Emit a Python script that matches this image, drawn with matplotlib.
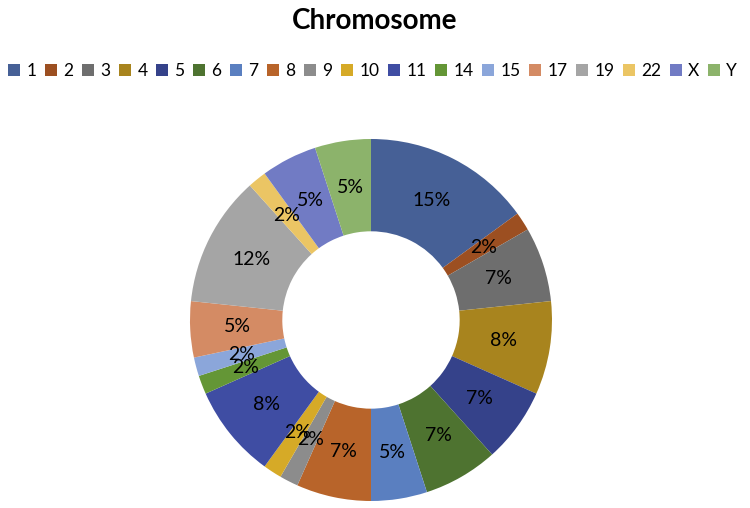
import matplotlib.pyplot as plt
from matplotlib.patches import Patch

# chromosome counts (read from the % labels, total 60)
chromosomes = ['1', '2', '3', '4', '5', '6', '7', '8', '9', '10',
               '11', '14', '15', '17', '19', '22', 'X', 'Y']
counts = [9, 1, 4, 5, 4, 4, 3, 4, 1, 1, 5, 1, 1, 3, 7, 1, 3, 3]
colors = ['#466096', '#9C4F21', '#6E6E6E', '#A8841E', '#35428A', '#4E7330',
          '#5A7FC0', '#B8642A', '#8C8C8C', '#D6AA27', '#3F4DA3', '#649636',
          '#8BA6DA', '#D48B64', '#A5A5A5', '#EBC564', '#717BC4', '#8CB36B']

plt.rcParams['font.family'] = ['Lato', 'DejaVu Sans']

fig = plt.figure(figsize=(7.5, 5.08), dpi=100)
ax = fig.add_axes([0.2533, 0.0138, 0.4827, 0.7126])

wedges, texts, autotexts = ax.pie(
    counts, colors=colors, startangle=90, counterclock=False,
    autopct='%.0f%%', pctdistance=0.74,
    wedgeprops=dict(width=0.51, edgecolor='none'),
    textprops=dict(fontsize=14, color='black'))
ax.set_xlim(-1, 1)
ax.set_ylim(-1, 1)
ax.set_aspect('equal')
ax.axis('off')

fig.suptitle('Chromosome', y=0.985, fontsize=20, fontweight='bold')

handles = [Patch(facecolor=c, edgecolor='none') for c in colors]
fig.legend(handles, chromosomes, loc='center', bbox_to_anchor=(0.497, 0.86),
           ncol=len(chromosomes), frameon=False, fontsize=12.5,
           handlelength=0.7, handleheight=0.7, handletextpad=0.35,
           columnspacing=0.5, borderaxespad=0, borderpad=0)

fig.savefig('out.png', dpi=100)
